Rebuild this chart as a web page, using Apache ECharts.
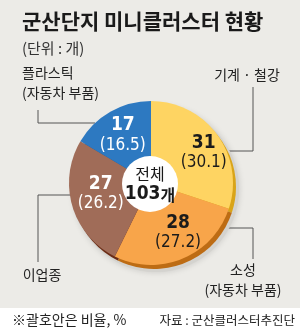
<!DOCTYPE html>
<html>
<head>
<meta charset="utf-8">
<script src="https://cdn.jsdelivr.net/npm/echarts@6/dist/echarts.min.js"></script>
<style>
html,body{margin:0;padding:0;background:#fff;}
#chart{width:300px;height:330px;}
</style>
</head>
<body>
<div id="chart"></div>
<script>
// 데이터
var categories = ['기계 · 철강', '소성\n(자동차 부품)', '이업종', '플라스틱\n(자동차 부품)'];
var counts = [31, 28, 27, 17];
var shares = [30.1, 27.2, 26.2, 16.5];
var titleText = '군산단지 미니클러스터 현황';
var unitText = '(단위 : 개)';
var noteText = '※괄호안은 비율, %';
var sourceText = '자료 : 군산클러스터추진단';

var KR = '"Noto Sans CJK KR", sans-serif';
var NUM = '"Liberation Sans Narrow", "DejaVu Sans Condensed", "Roboto", sans-serif';

var mainColors = ['#fed462', '#f8a54a', '#a06c58', '#2d79c1'];
var rimColors = ['#d9a418', '#bd6c14', '#6b2d16', '#1d5a98'];
var innerTextColors = ['#1b1b1b', '#1b1b1b', '#ffffff', '#ffffff'];
// 안쪽 라벨 미세 위치
var innerOffsets = [[0, 8], [2, -10], [12, -8], [4, 9]];
// 바깥 라벨 위치 + 지시선
var outerLabels = [
  {x: 247, y: 75, align: 'center', line: [[222, 151], [253, 151], [253, 87]]},
  {x: 243, y: 280, align: 'center', line: [[220, 228], [253, 228], [253, 259]]},
  {x: 42, y: 275, align: 'center', line: [[73, 195], [38, 195], [38, 262]]},
  {x: 22, y: 83, align: 'left', line: [[95, 123], [38, 123], [38, 110]]}
];

var total = 0;
for (var i = 0; i < counts.length; i++) total += counts[i];

var cx = 151, cy = 183, R = 82;

var mainData = [], rimData = [], labelData = [];
for (var i = 0; i < counts.length; i++) {
  mainData.push({name: categories[i], value: counts[i], itemStyle: {color: mainColors[i]}});
  rimData.push({name: categories[i], value: counts[i], itemStyle: {color: rimColors[i]}});
  labelData.push({
    name: categories[i], value: counts[i],
    label: {color: innerTextColors[i], offset: innerOffsets[i]}
  });
}

var chart = echarts.init(document.getElementById('chart'));
var option = {
  backgroundColor: '#ecebe7',
  animation: false,
  graphic: [
    {type: 'rect', shape: {x: 0, y: 308, width: 300, height: 22}, style: {fill: '#ffffff'}, z: -1},
    {type: 'text', left: 22, top: 11, style: {text: titleText, font: 'bold 21px ' + KR, fill: '#1a1a1a'}},
    {type: 'text', left: 22, top: 41, style: {text: unitText, font: '15px ' + KR, fill: '#333'}},
    {type: 'text', left: 12, top: 313, style: {text: noteText, font: '14px ' + KR, fill: '#222'}},
    {type: 'text', right: 5, top: 314, style: {text: sourceText, font: '12.5px ' + KR, fill: '#222'}}
  ],
  series: [
    {
      // 그림자
      type: 'pie', silent: true, center: [cx + 5, cy + 6], radius: R + 1,
      label: {show: false}, labelLine: {show: false},
      itemStyle: {color: '#d4d3cf', shadowColor: 'rgba(0,0,0,0.15)', shadowBlur: 6},
      data: [{value: total}]
    },
    {
      // 테두리 (입체감)
      type: 'pie', silent: true, center: [cx + 3, cy + 4], radius: R,
      startAngle: 90, clockwise: true,
      label: {show: false}, labelLine: {show: false},
      data: rimData
    },
    {
      type: 'pie', silent: true, center: [cx, cy], radius: R,
      startAngle: 90, clockwise: true, avoidLabelOverlap: false,
      label: {
        show: true, position: 'outside', formatter: '{b}',
        fontFamily: KR, fontSize: 14, lineHeight: 20, color: '#222'
      },
      labelLine: {show: true, lineStyle: {color: '#555', width: 1}},
      labelLayout: function (p) {
        var o = outerLabels[p.dataIndex];
        return {x: o.x, y: o.y, align: o.align, verticalAlign: 'middle', labelLinePoints: o.line};
      },
      data: mainData
    },
    {
      type: 'pie', silent: true, center: [cx, cy], radius: [42, R],
      startAngle: 90, clockwise: true,
      itemStyle: {color: 'rgba(0,0,0,0)'},
      label: {
        show: true, position: 'inside',
        formatter: function (p) {
          return '{n|' + p.value + '}\n{p|(' + shares[p.dataIndex].toFixed(1) + ')}';
        },
        rich: {
          n: {fontFamily: NUM, fontSize: 19, fontWeight: 'bold', lineHeight: 20},
          p: {fontFamily: NUM, fontSize: 17, lineHeight: 20}
        }
      },
      labelLine: {show: false},
      data: labelData
    },
    {
      type: 'pie', silent: true, center: [cx - 1, cy + 1], radius: 28,
      itemStyle: {color: '#ffffff'},
      label: {
        show: true, position: 'center',
        formatter: function (p) { return '{a|전체}\n{b|' + p.value + '}{c|개}'; },
        rich: {
          a: {fontFamily: KR, fontSize: 16, color: '#1a1a1a', lineHeight: 21},
          b: {fontFamily: NUM, fontSize: 19, fontWeight: 'bold', color: '#1a1a1a', lineHeight: 21},
          c: {fontFamily: KR, fontSize: 16, fontWeight: 'bold', color: '#1a1a1a', lineHeight: 21}
        }
      },
      labelLine: {show: false},
      data: [{value: total}]
    }
  ]
};
chart.setOption(option);
</script>
</body>
</html>
